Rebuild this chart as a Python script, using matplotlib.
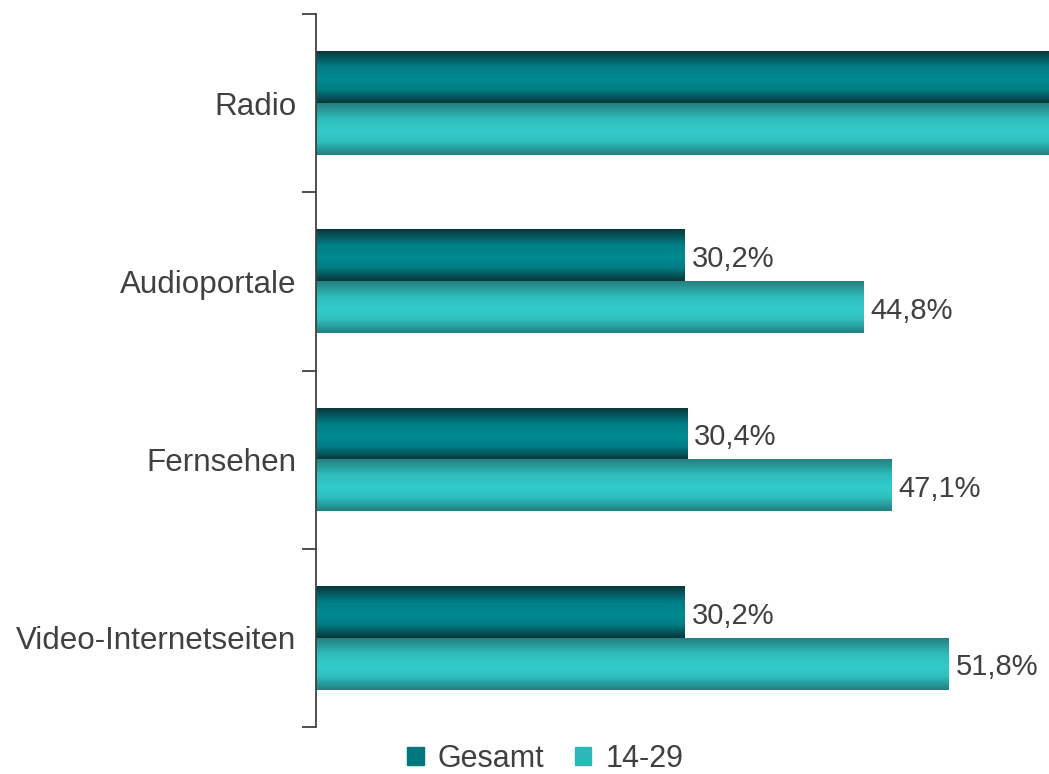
import matplotlib.pyplot as plt
import numpy as np
from matplotlib.colors import LinearSegmentedColormap
from matplotlib.patches import Rectangle

plt.rcParams['font.family'] = ['Liberation Sans', 'DejaVu Sans']

categories = ['Radio', 'Audioportale', 'Fernsehen', 'Video-Internetseiten']
gesamt = [78.4, 30.2, 30.4, 30.2]
jung = [80.6, 44.8, 47.1, 51.8]
series_names = ['Gesamt', '14-29']

text_color = '#404040'

# vertical gradient maps (top -> bottom of bar)
dark_cmap = LinearSegmentedColormap.from_list(
    'dark', [(0, '#08393d'), (0.3, '#007f86'), (0.55, '#008a92'),
             (0.75, '#007c83'), (1, '#06393c')])
light_cmap = LinearSegmentedColormap.from_list(
    'light', [(0, '#258080'), (0.3, '#2fbcbc'), (0.55, '#33cccc'),
              (0.75, '#2fbdbd'), (1, '#218080')])


def shade(ax, bars, cmap):
    grad = np.linspace(0, 1, 64).reshape(-1, 1)
    for b in bars:
        x0, y0 = b.get_x(), b.get_y()
        w, h = b.get_width(), b.get_height()
        ax.imshow(grad, cmap=cmap, aspect='auto', interpolation='bilinear',
                  extent=(x0, x0 + w, y0 + h, y0), zorder=3,
                  clip_path=b, clip_on=True)
        b.set_alpha(0)


fig = plt.figure(figsize=(10.49, 7.74), dpi=100)
ax = fig.add_axes([316 / 1049, 47 / 774, 1 - 316 / 1049, 713 / 774])

y = np.arange(len(categories))
h = 0.29
bars_g = ax.barh(y - h / 2, gesamt, height=h, color='#008890', zorder=2)
bars_j = ax.barh(y + h / 2, jung, height=h, color='#33cccc', zorder=2)
shade(ax, bars_g, dark_cmap)
shade(ax, bars_j, light_cmap)

ax.set_xlim(0, 60)
ax.set_ylim(len(categories) - 0.5, -0.5)

for vals, off in ((gesamt, -h / 2), (jung, h / 2)):
    for i, v in enumerate(vals):
        if v < 60:
            ax.text(v + 0.55, i + off + 0.02, f'{v:.1f}%'.replace('.', ','),
                    va='center', ha='left', fontsize=21, color=text_color)

ax.set_yticks(y)
ax.set_yticklabels(categories, fontsize=22.6, color=text_color)
ax.set_yticks(np.arange(len(categories) + 1) - 0.5, minor=True)
ax.tick_params(axis='y', which='major', length=0, pad=14)
ax.tick_params(axis='y', which='minor', length=10, width=1.3, color='#404040')
ax.set_xticks([])
for s in ['top', 'right', 'bottom']:
    ax.spines[s].set_visible(False)
ax.spines['left'].set_color('#404040')
ax.spines['left'].set_linewidth(1.3)
ax.spines['left'].set_zorder(5)

handles = [Rectangle((0, 0), 1, 1, color='#00777e'),
           Rectangle((0, 0), 1, 1, color='#2ab8b8')]
fig.legend(handles, series_names, loc='center', bbox_to_anchor=(545 / 1049, 1 - 759 / 774),
           ncol=2, frameon=False, fontsize=22, labelcolor=text_color,
           handlelength=0.55, handleheight=0.55, handletextpad=0.45, columnspacing=1.0,
           borderpad=0.1)

fig.savefig('out.png', dpi=100)
